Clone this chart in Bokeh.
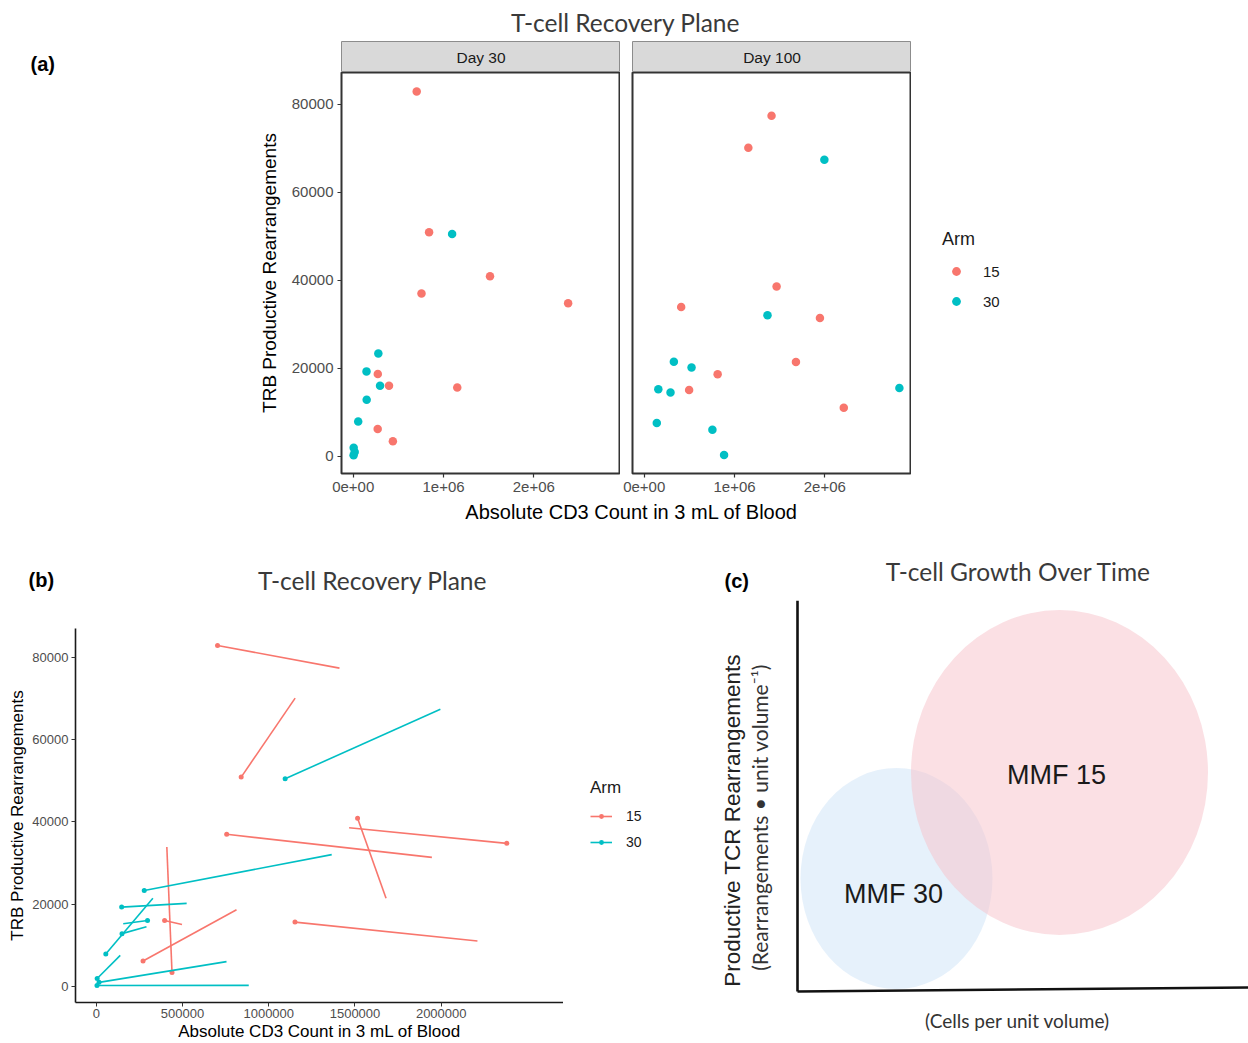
import math
from bokeh.plotting import figure
from bokeh.models import (Range1d, Label, Legend, LegendItem, ColumnDataSource,
                          FixedTicker, CustomJSTickFormatter, NumeralTickFormatter)
from bokeh.layouts import column, row
from bokeh.embed import file_html
from bokeh.resources import INLINE
from bokeh.core.properties import value

NAN = float("nan")

# ---- per-patient measurements: arm, Day 30 and Day 100 (CD3 count, TRB rearrangements)
patient = ["R01", "R02", "R03", "R04", "R05", "R06", "R07", "R08", "R09", "R10",
           "T01", "T02", "T03", "T04", "T05", "T06", "T07", "T08", "T09", "T10"]
arm = ["15"] * 10 + ["30"] * 10
cd3_d30 = [703000, 840000, 1515000, 756000, 2380000, 396000, 271000, 439000, 1152000, 272000,
           1095000, 278000, 147000, 297000, 149000, 55000, 5000, 16000, 4000, NAN]
trb_d30 = [82900, 50900, 40900, 37000, 34800, 16050, 6200, 3400, 15650, 18700,
           50500, 23350, 19300, 16050, 12850, 7900, 1950, 1000, 250, NAN]
cd3_d100 = [1410000, 1153000, 1680000, 1946000, 1466000, 497000, 813000, 409000, 2210000, NAN,
            1995000, 1365000, 524000, 156000, 291000, 328000, 139000, 755000, 884000, 2826000]
trb_d100 = [77400, 70100, 21450, 31400, 38600, 15050, 18650, 33900, 11050, NAN,
            67400, 32050, 20200, 15250, 14500, 21470, 7550, 6050, 280, 15500]

arms = ["15", "30"]
arm_colors = {"15": "#F8766D", "30": "#00BFC4"}

# ---- schematic groups for the growth-over-time sketch (arbitrary units)
groups = ["MMF 30", "MMF 15"]
group_cx = [99, 262]
group_cy = [113, 219]
group_w = [192, 297]
group_h = [221, 325]
group_fill = ["#D6E8F9", "#F7C1C9"]
group_alpha = [0.6, 0.5]

TITLE_FONT = "Lato"
SANS = "Liberation Sans"
W = 1248


def base_fig(**kw):
    p = figure(output_backend="svg", toolbar_location=None, frame_align=False, **kw)
    p.grid.visible = False
    p.background_fill_color = "white"
    p.border_fill_color = "white"
    return p


def blank(w, h, x0, y0, fill="white", outline=None):
    p = base_fig(frame_width=w, frame_height=h, x_range=Range1d(x0, x0 + w),
                 y_range=Range1d(y0 + h, y0), min_border=0,
                 x_axis_location=None, y_axis_location=None)
    p.background_fill_color = fill
    p.border_fill_color = fill
    p.outline_line_color = outline
    return p


def put(p, x, y, text, size, font=SANS, style="normal", color="#1a1a1a",
        align="center", baseline="middle", angle=0.0):
    p.add_layout(Label(x=x, y=y, text=text, text_font=font, text_font_size=f"{size}px",
                       text_font_style=style, text_color=color, text_align=align,
                       text_baseline=baseline, angle=angle))


def rows_for(day_x, day_y, a):
    xs, ys = [], []
    for xv, yv, av in zip(day_x, day_y, arm):
        if av == a and not (math.isnan(xv) or math.isnan(yv)):
            xs.append(xv)
            ys.append(yv)
    return ColumnDataSource(dict(x=xs, y=ys))


def pairs_for(a):
    x0, y0, x1, y1 = [], [], [], []
    for i in range(len(patient)):
        vals = (cd3_d30[i], trb_d30[i], cd3_d100[i], trb_d100[i])
        if arm[i] == a and not any(math.isnan(v) for v in vals):
            x0.append(vals[0]); y0.append(vals[1]); x1.append(vals[2]); y1.append(vals[3])
    return ColumnDataSource(dict(x0=x0, y0=y0, x1=x1, y1=y1))


def style_legend(leg, title_size, label_size):
    leg.title_text_font = SANS
    leg.title_text_font_size = title_size
    leg.title_text_font_style = "normal"
    leg.title_text_color = "#1a1a1a"
    leg.label_text_font = SANS
    leg.label_text_font_size = label_size
    leg.label_text_color = "#1a1a1a"
    leg.border_line_color = None
    leg.background_fill_alpha = 0
    leg.inactive_fill_alpha = 0
    leg.margin = 0


# =================== (a) faceted scatter ===================
header_a = blank(W, 41, 0, 0)
put(header_a, 625, 22, "T-cell Recovery Plane", 24.5, font=TITLE_FONT, color="#3a3a3a")

left_a = blank(255, 459, 0, 41)
put(left_a, 30, 63, "(a)", 20, style="bold", align="left", color="#000000")

strip_left = blank(86, 31, 255, 41)
strip30 = blank(279, 31, 341, 41, fill="#D9D9D9", outline="#8C8C8C")
put(strip30, 341 + 139.5, 57, "Day 30", 15.5)
strip_gap = blank(12, 31, 620, 41)
strip100 = blank(279, 31, 632, 41, fill="#D9D9D9", outline="#8C8C8C")
put(strip100, 632 + 139.5, 57, "Day 100", 15.5)
strip_right = blank(337, 31, 911, 41)

xr_a = Range1d(-130000, 2960000)
yr_a = Range1d(-3900, 87200)

sci = CustomJSTickFormatter(code="""
    if (tick == 0) { return "0e+00"; }
    var s = tick.toExponential(0);
    return s.replace(/e([+-])(\\d)$/, "e$10$2");
""")


def facet(left, with_y):
    p = base_fig(frame_width=279, frame_height=401, x_range=xr_a, y_range=yr_a,
                 min_border_left=left, min_border_right=0, min_border_top=0,
                 min_border_bottom=27, y_axis_location="left" if with_y else None)
    p.outline_line_color = "#333333"
    p.outline_line_width = 2
    axes = [p.xaxis[0]] + ([p.yaxis[0]] if with_y else [])
    for ax in axes:
        ax.axis_line_color = None
        ax.major_tick_line_color = "#333333"
        ax.major_tick_line_width = 1.2
        ax.major_tick_out = 4
        ax.major_tick_in = 0
        ax.minor_tick_line_color = None
        ax.major_label_text_color = "#4D4D4D"
        ax.major_label_text_font = SANS
        ax.major_label_text_font_size = "15px"
        ax.major_label_standoff = 4
    p.xaxis.ticker = FixedTicker(ticks=[0, 1000000, 2000000])
    p.xaxis.formatter = sci
    if with_y:
        p.yaxis.ticker = FixedTicker(ticks=[0, 20000, 40000, 60000, 80000])
        p.yaxis.formatter = NumeralTickFormatter(format="0")
        p.yaxis.axis_label = "TRB Productive Rearrangements"
        p.yaxis.axis_label_text_font = SANS
        p.yaxis.axis_label_text_font_size = "19px"
        p.yaxis.axis_label_text_font_style = "normal"
        p.yaxis.axis_label_text_color = "#000000"
        p.yaxis.axis_label_standoff = 9
    return p


fig30 = facet(86, True)
fig100 = facet(12, False)

for a in arms:
    fig30.scatter("x", "y", source=rows_for(cd3_d30, trb_d30, a), size=8.5,
                  color=arm_colors[a], line_color=None)
    fig100.scatter("x", "y", source=rows_for(cd3_d100, trb_d100, a), size=8.5,
                   color=arm_colors[a], line_color=None)

# legend panel for (a): hidden key renderers carry the point styling
leg_fig_a = blank(337, 428, 911, 72)
keys_a = []
for a in arms:
    k = leg_fig_a.scatter("x", "y", source=rows_for(cd3_d100, trb_d100, a), size=8.5,
                          color=arm_colors[a], line_color=None)
    k.visible = False
    keys_a.append(k)
leg_a = Legend(items=[LegendItem(label=a, renderers=[k]) for a, k in zip(arms, keys_a)],
               title="Arm", location=(31, 188), orientation="vertical")
style_legend(leg_a, "18px", "15px")
leg_a.title_standoff = 10
leg_a.glyph_width = 28
leg_a.glyph_height = 22
leg_a.spacing = 8
leg_a.label_standoff = 13
leg_a.padding = 10
leg_fig_a.add_layout(leg_a)

footer_a = blank(W, 40, 0, 500)
put(footer_a, 631, 511, "Absolute CD3 Count in 3 mL of Blood", 20, color="#000000")

# =================== (b) paired trajectories & (c) schematic ===================
header_b = blank(W, 60, 0, 540)
put(header_b, 28, 579, "(b)", 20, style="bold", align="left", color="#000000")
put(header_b, 372, 580, "T-cell Recovery Plane", 24.5, font=TITLE_FONT, color="#3a3a3a")
put(header_b, 724, 580, "(c)", 20, style="bold", align="left", color="#000000")
put(header_b, 1018, 571, "T-cell Growth Over Time", 24.5, font=TITLE_FONT, color="#3a3a3a")

figB = base_fig(frame_width=488, frame_height=374, x_range=Range1d(-120600, 2709000),
                y_range=Range1d(-3893, 87033), min_border_left=75, min_border_right=0,
                min_border_top=28, min_border_bottom=41)
figB.outline_line_color = None
for ax in [figB.xaxis[0], figB.yaxis[0]]:
    ax.axis_line_color = "#1a1a1a"
    ax.axis_line_width = 1.6
    ax.major_tick_line_color = "#333333"
    ax.major_tick_out = 4
    ax.major_tick_in = 0
    ax.minor_tick_line_color = None
    ax.major_label_text_color = "#4D4D4D"
    ax.major_label_text_font = SANS
    ax.major_label_text_font_size = "13px"
    ax.major_label_standoff = 3
    ax.axis_label_text_font = SANS
    ax.axis_label_text_font_size = "17px"
    ax.axis_label_text_font_style = "normal"
    ax.axis_label_text_color = "#000000"
figB.xaxis.ticker = FixedTicker(ticks=[0, 500000, 1000000, 1500000, 2000000])
figB.xaxis.formatter = NumeralTickFormatter(format="0")
figB.xaxis.major_label_standoff = 2
figB.yaxis.ticker = FixedTicker(ticks=[0, 20000, 40000, 60000, 80000])
figB.yaxis.formatter = NumeralTickFormatter(format="0")
figB.xaxis.axis_label = "Absolute CD3 Count in 3 mL of Blood"
figB.xaxis.axis_label_standoff = 1
figB.yaxis.axis_label = "TRB Productive Rearrangements"
figB.yaxis.axis_label_standoff = 2

for a in arms:
    src = pairs_for(a)
    figB.segment("x0", "y0", "x1", "y1", source=src, line_color=arm_colors[a],
                 line_width=1.6)
    figB.scatter("x0", "y0", source=src, size=5, color=arm_colors[a], line_color=None)

# legend panel for (b): hidden line + point key renderers
leg_fig_b = blank(137, 443, 563, 600)
items_b = []
for a in arms:
    src = pairs_for(a)
    ks = leg_fig_b.segment("x0", "y0", "x1", "y1", source=src, line_color=arm_colors[a],
                           line_width=1.6)
    kd = leg_fig_b.scatter("x0", "y0", source=src, size=5, color=arm_colors[a],
                           line_color=None)
    ks.visible = False
    kd.visible = False
    items_b.append(LegendItem(label=a, renderers=[ks, kd]))
leg_b = Legend(items=items_b, title="Arm", location=(27, 193), orientation="vertical")
style_legend(leg_b, "17px", "14px")
leg_b.title_standoff = 10
leg_b.glyph_width = 22
leg_b.glyph_height = 12
leg_b.spacing = 10
leg_b.label_standoff = 14
leg_b.padding = 8
leg_fig_b.add_layout(leg_b)

# schematic panel: units are measured from the axes' corner
figC = base_fig(frame_width=548, frame_height=443, x_range=Range1d(-97, 451),
                y_range=Range1d(-52, 391), min_border=0,
                x_axis_location=None, y_axis_location=None)
figC.outline_line_color = None
figC.ellipse(x=group_cx, y=group_cy, width=group_w, height=group_h,
             fill_color=group_fill, fill_alpha=group_alpha, line_color=None)
figC.segment(x0=[0, 0], y0=[0, 0], x1=[0, 451], y1=[391, 4], line_color="#111111",
             line_width=2.6)
figC.text(x=[cx - 3 for cx in group_cx], y=[group_cy[0] - 15, group_cy[1] - 2], text=groups,
          text_font=value(SANS), text_font_size="27px", text_color="#1a1a1a",
          text_align="center", text_baseline="middle")
put(figC, -65, 171, "Productive TCR Rearrangements", 22.5, color="#222222", angle=math.pi / 2)
put(figC, -38, 174, "(Rearrangements \u2022 unit volume\u207b\u00b9)", 21, font=TITLE_FONT,
    color="#333333", angle=math.pi / 2)
put(figC, 220, -29, "(Cells per unit volume)", 19, font=TITLE_FONT, color="#333333")

layout = column(
    header_a,
    row(left_a, column(row(strip_left, strip30, strip_gap, strip100, strip_right),
                       row(fig30, fig100, leg_fig_a))),
    footer_a,
    header_b,
    row(figB, leg_fig_b, figC),
)

open("out.html", "w").write(file_html(layout, INLINE))
